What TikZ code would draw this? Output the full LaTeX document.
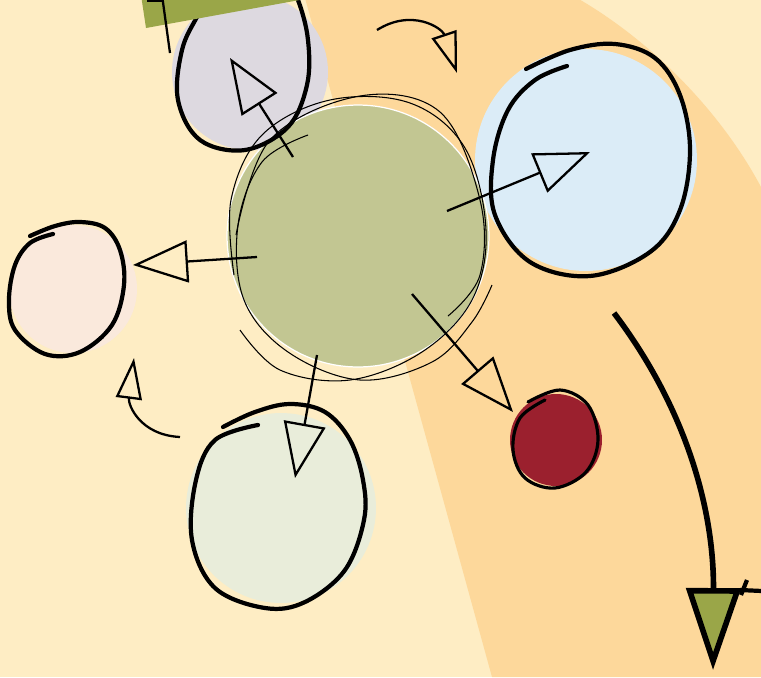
\documentclass[tikz,border=0pt]{standalone}
\usepackage{tikz}
\usetikzlibrary{arrows.meta}
\definecolor{creamBg}{HTML}{FEEDC4}
\definecolor{bandOrange}{HTML}{FDD89B}
\definecolor{hubGreen}{HTML}{C2C692}
\definecolor{lavGrey}{HTML}{DDD9E0}
\definecolor{skyBlue}{HTML}{DBECF7}
\definecolor{roseTint}{HTML}{FAE9DC}
\definecolor{sageTint}{HTML}{E9EDDA}
\definecolor{rubyRed}{HTML}{9B202E}
\definecolor{oliveHead}{HTML}{9AA648}

\begin{document}
\begin{tikzpicture}[
    x=0.02cm, y=-0.02cm,
    blob/.style={circle, inner sep=0pt, draw=none},
    sketchline/.style={draw=black, line width=2.4pt, line cap=round},
    thinloop/.style={draw=black, line width=0.6pt},
    flowarr/.style={draw=black, line width=1.3pt, -{Triangle[open, length=1.1cm, width=0.84cm]}},
    smallarr/.style={draw=black, line width=1.3pt, -{Triangle[open, length=0.82cm, width=0.52cm]}},
    bigarr/.style={draw=black, line width=3.2pt, -{Triangle[fill=oliveHead, length=1.64cm, width=1.08cm]}}
  ]
  \useasboundingbox (0,0) rectangle (761,677);
  \clip (0,0) rectangle (761,677);
  \fill[creamBg] (0,0) rectangle (761,677);

  % orange band
  \fill[bandOrange] (305,-2) -- (492,677) -- (761,677) -- (761,187)
    .. controls (720,110) and (650,40) .. (577,-2) -- cycle;

  % satellite fills
  \node[blob, fill=lavGrey, minimum size=3.12cm] (lav) at (250,72) {};
  \node[blob, fill=skyBlue, minimum size=4.44cm] (sky) at (586,160) {};
  \node[blob, fill=roseTint, minimum size=2.56cm] (rose) at (73,289) {};
  \node[blob, fill=sageTint, minimum size=3.8cm] (sage) at (281,508) {};
  \node[blob, fill=rubyRed, minimum size=1.84cm] (ruby) at (556,440) {};

  % hub
  \node[blob, fill=hubGreen, draw=white, line width=0.7pt, minimum size=5.24cm] (hub) at (358,236) {};
  \draw[thinloop] plot[smooth, tension=0.6] coordinates {(308,135) (262,162) (238,225) (244,300) (288,352) (360,380) (432,362) (472,322) (492,285)};
  \draw[thinloop] plot[smooth, tension=0.6] coordinates {(234,275) (231,200) (262,135) (330,100) (410,103) (465,148) (486,230) (472,300) (422,352) (350,380) (280,370) (240,330)};
  \draw[thinloop] plot[smooth, tension=0.6] coordinates {(236,235) (270,140) (360,96) (440,112) (480,200) (480,275) (448,316)};

  % sketched outlines
  \draw[sketchline] plot[smooth, tension=0.6] coordinates {(282,-30) (298,0) (308,40) (307,85) (288,127) (245,150) (200,140) (178,100) (182,50) (198,15) (218,-20)};
  \draw[sketchline] plot[smooth, tension=0.6] coordinates {(526,69) (570,50) (615,44) (655,58) (680,95) (690,150) (680,210) (650,252) (590,276) (530,262) (495,215) (493,160) (508,110) (535,80) (567,66)};
  \draw[sketchline] plot[smooth, tension=0.6] coordinates {(30,236) (55,226) (80,222) (105,228) (120,250) (124,285) (112,325) (80,352) (45,354) (15,330) (9,300) (15,265) (30,243) (53,234)};
  \draw[sketchline] plot[smooth, tension=0.6] coordinates {(223,427) (255,412) (290,404) (325,412) (350,440) (363,480) (364,520) (345,570) (305,602) (265,608) (215,588) (192,540) (196,480) (215,440) (258,425)};
  \draw[sketchline, line width=1.8pt] plot[smooth, tension=0.6] coordinates {(528,402) (560,390) (588,405) (598,440) (586,472) (555,488) (525,478) (513,450) (520,418) (545,400)};

  % green block at the top
  \fill[oliveHead] (141,-5) -- (146,28) -- (327,-5) -- cycle;
  \coordinate (toptail) at (170,53);
  \coordinate (toptip) at (162,-5);
  \draw[black, line width=1.3pt] (toptail) -- (toptip);
  \draw[black, line width=1.6pt] (147,1) -- (164,1);

  % arrows out of the hub
  \coordinate (lavtail) at (293,157);  \coordinate (lavtip) at (230,58);
  \coordinate (skytail) at (447,211);  \coordinate (skytip) at (590,152);
  \coordinate (rosetail) at (257,257); \coordinate (rosetip) at (133,265);
  \coordinate (sagetail) at (317,355); \coordinate (sagetip) at (295,478);
  \coordinate (rubytail) at (412,294); \coordinate (rubytip) at (513,412);
  \draw[flowarr] (lavtail) -- (lavtip);
  \draw[flowarr] (skytail) -- (skytip);
  \draw[flowarr] (rosetail) -- (rosetip);
  \draw[flowarr] (sagetail) -- (sagetip);
  \draw[flowarr] (rubytail) -- (rubytip);

  % small curved arrows
  \coordinate (toparcstart) at (377,30); \coordinate (toparctip) at (457,73);
  \coordinate (leftarcstart) at (180,437); \coordinate (leftarctip) at (134,358);
  \draw[smallarr] (toparcstart) .. controls (412,8) and (442,28) .. (toparctip);
  \draw[smallarr] (leftarcstart) .. controls (140,435) and (128,405) .. (leftarctip);

  % big arrow on the right
  \coordinate (bigtail) at (614,313); \coordinate (bigtip) at (713,670);
  \draw[bigarr] (bigtail) .. controls (680,400) and (714,500) .. (bigtip);
  \draw[black, line width=2.4pt] (740,590) -- (762,591);
  \draw[black, line width=2.4pt] (741,595) -- (747,580);
\end{tikzpicture}
\end{document}
